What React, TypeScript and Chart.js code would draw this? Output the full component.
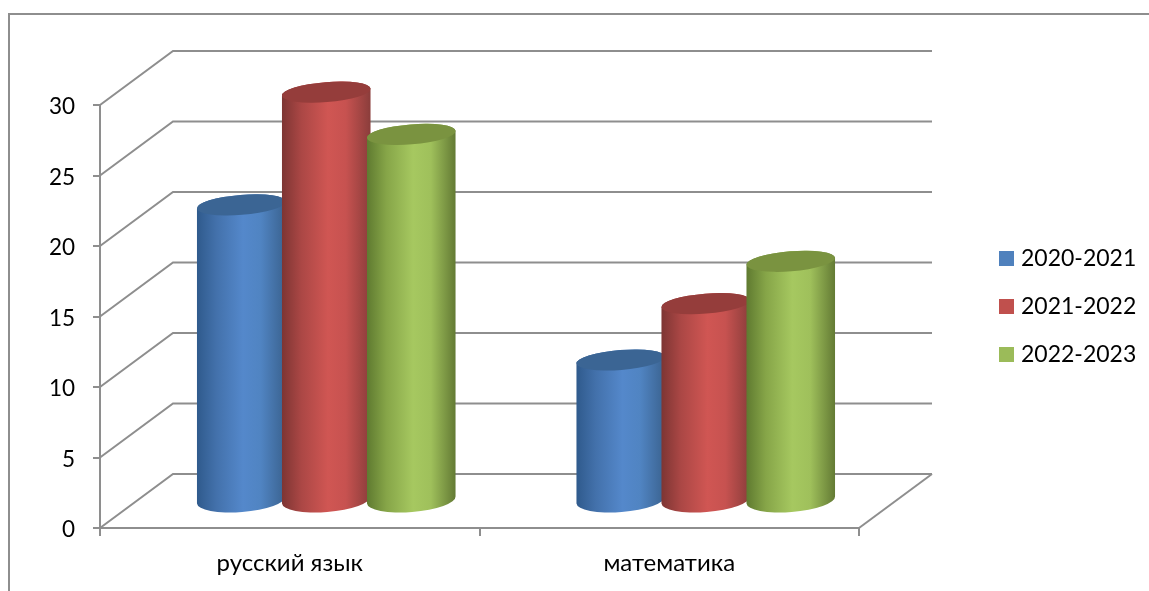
import React, { useEffect, useRef } from "react";
import { Chart, registerables } from "chart.js";

Chart.register(...registerables);

const categories = ["русский язык", "математика"];
const seriesNames = ["2020-2021", "2021-2022", "2022-2023"];
const values2020 = [21, 10];
const values2021 = [29, 14];
const values2022 = [26, 17];
const legendColors = ["#4f81bd", "#c0504d", "#9bbb59"];
const sideShades = [
  ["#2f5a8c", "#4371ab", "#5488cb", "#5084c2", "#3a628f"],
  ["#7d3533", "#ab4745", "#d05653", "#c75250", "#8a3d3b"],
  ["#5f7a30", "#86a548", "#a6c860", "#9fc05b", "#637a34"],
];
const topShades = ["#3b6594", "#953d3b", "#7a9340"];

const FONT = 'Lato, "Open Sans", sans-serif';
const LINE = "#8e8e8e";
const DEPTH_X = 73;
const DEPTH_Y = -54;

function drawCylinders(chart: any, i: number) {
  const { ctx } = chart;
  const rot = -0.08;
  const ry = 10;
  chart.getDatasetMeta(i).data.forEach((bar: any) => {
    const p = bar.getProps(["x", "y", "base", "width"], true);
    const cx = p.x + DEPTH_X / 2;
    const top = p.y + DEPTH_Y / 2;
    const base = p.base + DEPTH_Y / 2;
    const rx = (p.width * 1.045) / 2;
    const g = ctx.createLinearGradient(cx - rx, 0, cx + rx, 0);
    const stops = [0, 0.22, 0.52, 0.72, 1];
    stops.forEach((s, k) => g.addColorStop(s, sideShades[i][k]));
    ctx.save();
    ctx.fillStyle = g;
    ctx.beginPath();
    ctx.ellipse(cx, top, rx, ry, rot, Math.PI, 0, false);
    ctx.ellipse(cx, base, rx, ry + 2, rot, 0, Math.PI, false);
    ctx.closePath();
    ctx.fill();
    ctx.fillStyle = topShades[i];
    ctx.beginPath();
    ctx.ellipse(cx, top, rx, ry, rot, 0, Math.PI * 2);
    ctx.fill();
    ctx.restore();
  });
}

const scene = {
  id: "scene",
  beforeDraw(chart: any) {
    const { ctx, width, height } = chart;
    ctx.save();
    ctx.fillStyle = "#fff";
    ctx.fillRect(0, 0, width, height);
    ctx.strokeStyle = LINE;
    ctx.lineWidth = 2;
    ctx.beginPath();
    ctx.moveTo(9, height);
    ctx.lineTo(9, 14);
    ctx.lineTo(width, 14);
    ctx.stroke();
    ctx.restore();
  },
  beforeDatasetsDraw(chart: any) {
    const { ctx, scales } = chart;
    const { x, y } = scales;
    ctx.save();
    ctx.strokeStyle = LINE;
    ctx.lineWidth = 2;
    ctx.lineJoin = "miter";
    y.ticks.forEach((t: any) => {
      const py = y.getPixelForValue(t.value);
      ctx.beginPath();
      ctx.moveTo(x.left, py);
      ctx.lineTo(x.left + DEPTH_X, py + DEPTH_Y);
      ctx.lineTo(x.right + DEPTH_X, py + DEPTH_Y);
      ctx.stroke();
    });
    const py0 = y.getPixelForValue(0);
    ctx.beginPath();
    ctx.moveTo(x.right, py0);
    ctx.lineTo(x.right + DEPTH_X, py0 + DEPTH_Y);
    ctx.stroke();
    ctx.restore();
    chart.data.datasets.forEach((_d: any, i: number) => drawCylinders(chart, i));
  },
  beforeDatasetDraw() {
    return false;
  },
  afterDraw(chart: any) {
    const { ctx } = chart;
    ctx.save();
    ctx.font = `23px ${FONT}`;
    ctx.textBaseline = "middle";
    chart.data.datasets.forEach((d: any, i: number) => {
      const cy = 258.5 + i * 48;
      ctx.fillStyle = d.backgroundColor;
      ctx.fillRect(999, cy - 7.5, 15, 15);
      ctx.fillStyle = "#000";
      ctx.fillText(d.label, 1021, cy);
    });
    ctx.restore();
  },
};

export default function App() {
  const ref = useRef<HTMLCanvasElement>(null);
  useEffect(() => {
    const chart = new Chart(ref.current as HTMLCanvasElement, {
      type: "bar",
      data: {
        labels: categories,
        datasets: [
          { label: seriesNames[0], data: values2020, backgroundColor: legendColors[0] },
          { label: seriesNames[1], data: values2021, backgroundColor: legendColors[1] },
          { label: seriesNames[2], data: values2022, backgroundColor: legendColors[2] },
        ],
      },
      options: {
        responsive: false,
        animation: false,
        devicePixelRatio: 1,
        layout: { padding: { left: 0, top: 105, right: 290, bottom: 0 } },
        plugins: { legend: { display: false }, tooltip: { enabled: false } },
        datasets: { bar: { categoryPercentage: 0.672, barPercentage: 1 } },
        scales: {
          x: {
            afterFit: (s: any) => { s.height = 63; },
            grid: { drawOnChartArea: false, color: LINE, lineWidth: 2, tickLength: 8 },
            border: { color: LINE, width: 2 },
            ticks: { color: "#000", font: { family: FONT, size: 24 }, padding: 13, maxRotation: 0 },
          },
          y: {
            min: 0,
            max: 30,
            afterFit: (s: any) => { s.width = 100; },
            grid: { drawOnChartArea: false, color: LINE, lineWidth: 2, tickLength: 7 },
            border: { color: LINE, width: 2 },
            ticks: { color: "#000", font: { family: FONT, size: 22.5 }, stepSize: 5, padding: 18, labelOffset: 2 },
          },
        },
      } as any,
      plugins: [scene as any],
    });
    return () => chart.destroy();
  }, []);
  return (
    <div style={{ position: "fixed", left: 0, top: 0, width: 1149, height: 591 }}>
      <canvas ref={ref} width={1149} height={591} style={{ display: "block", width: 1149, height: 591 }} />
    </div>
  );
}
